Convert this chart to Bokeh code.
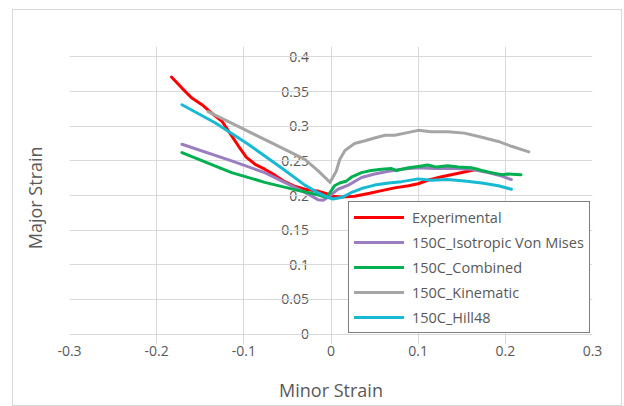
from bokeh.plotting import figure
from bokeh.models import FixedTicker, Legend, LegendItem, LinearAxis
from bokeh.embed import file_html
from bokeh.resources import INLINE

# ---- data ----
exp_x = [-0.183, -0.171, -0.160, -0.148, -0.137, -0.125, -0.116, -0.106, -0.097, -0.087, -0.076,
         -0.064, -0.053, -0.041, -0.030, -0.014, -0.003, 0.0, 0.012, 0.027, 0.043, 0.058, 0.073,
         0.089, 0.100, 0.111, 0.127, 0.142, 0.157, 0.168]
exp_y = [0.371, 0.355, 0.341, 0.331, 0.319, 0.307, 0.290, 0.271, 0.255, 0.245, 0.238,
         0.229, 0.220, 0.213, 0.209, 0.206, 0.202, 0.199, 0.198, 0.199, 0.203, 0.207, 0.211,
         0.214, 0.217, 0.222, 0.227, 0.231, 0.235, 0.238]

vm_x = [-0.171, -0.114, -0.076, -0.045, -0.026, -0.015, -0.009, -0.003, 0.008, 0.020, 0.035,
        0.050, 0.066, 0.081, 0.100, 0.119, 0.142, 0.161, 0.180, 0.196, 0.207]
vm_y = [0.274, 0.250, 0.233, 0.214, 0.202, 0.194, 0.193, 0.198, 0.209, 0.215, 0.226,
        0.231, 0.235, 0.238, 0.240, 0.239, 0.239, 0.238, 0.233, 0.228, 0.223]

comb_x = [-0.171, -0.114, -0.076, -0.037, -0.015, -0.005, 0.004, 0.010, 0.018, 0.024, 0.035,
          0.046, 0.058, 0.069, 0.075, 0.089, 0.100, 0.111, 0.121, 0.134, 0.146, 0.161, 0.173,
          0.184, 0.196, 0.203, 0.218]
comb_y = [0.262, 0.233, 0.219, 0.207, 0.201, 0.197, 0.214, 0.218, 0.221, 0.227, 0.233,
          0.236, 0.238, 0.239, 0.236, 0.240, 0.242, 0.244, 0.241, 0.243, 0.241, 0.240, 0.236,
          0.233, 0.230, 0.231, 0.230]

kin_x = [-0.141, -0.099, -0.057, -0.030, -0.015, -0.001, 0.006, 0.010, 0.016, 0.027, 0.039,
         0.050, 0.062, 0.073, 0.085, 0.100, 0.115, 0.134, 0.153, 0.173, 0.192, 0.207, 0.227]
kin_y = [0.321, 0.295, 0.269, 0.252, 0.236, 0.219, 0.235, 0.252, 0.265, 0.275, 0.279,
         0.283, 0.287, 0.287, 0.290, 0.294, 0.292, 0.292, 0.290, 0.284, 0.278, 0.271, 0.263]

hill_x = [-0.171, -0.133, -0.095, -0.057, -0.030, -0.015, -0.003, 0.002, 0.012, 0.023, 0.035,
          0.050, 0.066, 0.081, 0.100, 0.115, 0.134, 0.153, 0.173, 0.192, 0.207]
hill_y = [0.331, 0.305, 0.274, 0.240, 0.215, 0.204, 0.197, 0.195, 0.197, 0.204, 0.210,
          0.215, 0.218, 0.220, 0.224, 0.222, 0.223, 0.221, 0.218, 0.214, 0.209]

series_names = ["Experimental", "150C_Isotropic Von Mises", "150C_Combined",
                "150C_Kinematic", "150C_Hill48"]
series_colors = ["#FF0000", "#9B7EBF", "#00B050", "#A5A5A5", "#17B9D3"]

x_ticks = [-0.3, -0.2, -0.1, 0, 0.1, 0.2, 0.3]
x_tick_labels = ["-0.3", "-0.2", "-0.1", "0", "0.1", "0.2", "0.3"]
y_ticks = [0, 0.05, 0.1, 0.15, 0.2, 0.25, 0.3, 0.35, 0.4]
y_tick_labels = ["0", "0.05", "0.1", "0.15", "0.2", "0.25", "0.3", "0.35", "0.4"]

FONT = "Open Sans"
TXT = "#595959"
GRID = "#d9d9d9"
PAD = 0.015   # small room so the value labels at 0 and 0.4 are not cut

p = figure(width=610, height=397, output_backend="svg", toolbar_location=None,
           x_range=(-0.3, 0.3), y_range=(-PAD, 0.4 + PAD),
           min_border_left=56, min_border_right=31, min_border_top=36, min_border_bottom=63)
p.styles = {"border": "1px solid #d9d9d9", "box-sizing": "border-box",
            "margin-left": "12px", "margin-top": "9px"}
p.outline_line_color = None
p.background_fill_color = "white"
p.border_fill_color = "white"

p.xaxis.ticker = FixedTicker(ticks=x_ticks)
p.yaxis.ticker = FixedTicker(ticks=y_ticks)
p.xgrid.grid_line_color = GRID
p.ygrid.grid_line_color = GRID
p.xgrid.bounds = (0, 0.4)

p.xaxis.major_label_overrides = dict(zip(x_ticks, x_tick_labels))
p.xaxis.axis_line_color = None
p.xaxis.major_tick_line_color = None
p.xaxis.minor_tick_line_color = None
p.xaxis.major_tick_out = 0
p.xaxis.major_label_text_font = FONT
p.xaxis.major_label_text_font_size = "14px"
p.xaxis.major_label_text_color = TXT
p.xaxis.major_label_standoff = 1
p.xaxis.axis_label = "Minor Strain"
p.xaxis.axis_label_text_font = FONT
p.xaxis.axis_label_text_font_size = "18px"
p.xaxis.axis_label_text_font_style = "normal"
p.xaxis.axis_label_text_color = TXT
p.xaxis.axis_label_standoff = 19

# value axis crossing at x = 0
p.yaxis.fixed_location = 0
p.yaxis.bounds = (0, 0.4)
p.yaxis.level = "underlay"
p.yaxis.major_label_overrides = dict(zip(y_ticks, y_tick_labels))
p.yaxis.axis_line_color = GRID
p.yaxis.major_tick_line_color = None
p.yaxis.minor_tick_line_color = None
p.yaxis.major_label_text_font = FONT
p.yaxis.major_label_text_font_size = "14px"
p.yaxis.major_label_text_color = TXT
p.yaxis.major_label_standoff = 16

# axis title on the left edge
ytitle_axis = LinearAxis(ticker=FixedTicker(ticks=[]), axis_label="Major  Strain",
                         axis_line_color=None, major_tick_line_color=None,
                         minor_tick_line_color=None, major_tick_out=0, major_label_standoff=0,
                         axis_label_standoff=23, axis_label_text_font=FONT,
                         axis_label_text_font_size="18px", axis_label_text_font_style="normal",
                         axis_label_text_color=TXT)
p.add_layout(ytitle_axis, "left")

xs = [exp_x, vm_x, comb_x, kin_x, hill_x]
ys = [exp_y, vm_y, comb_y, kin_y, hill_y]
renderers = []
for sx, sy, c in zip(xs, ys, series_colors):
    r = p.line(sx, sy, line_color=c, line_width=3, line_join="round", line_cap="round")
    renderers.append(r)

items = [LegendItem(label=n, renderers=[r]) for n, r in zip(series_names, renderers)]
legend = Legend(items=items, location=(279, 11), margin=0, padding=5,
                glyph_width=50, glyph_height=20, label_standoff=8, spacing=5,
                label_height=20,
                label_text_font=FONT, label_text_font_size="14.5px", label_text_color=TXT,
                border_line_color="black", border_line_width=1.5,
                background_fill_color="white", background_fill_alpha=1.0)
p.add_layout(legend)

open("out.html", "w").write(file_html(p, INLINE))
